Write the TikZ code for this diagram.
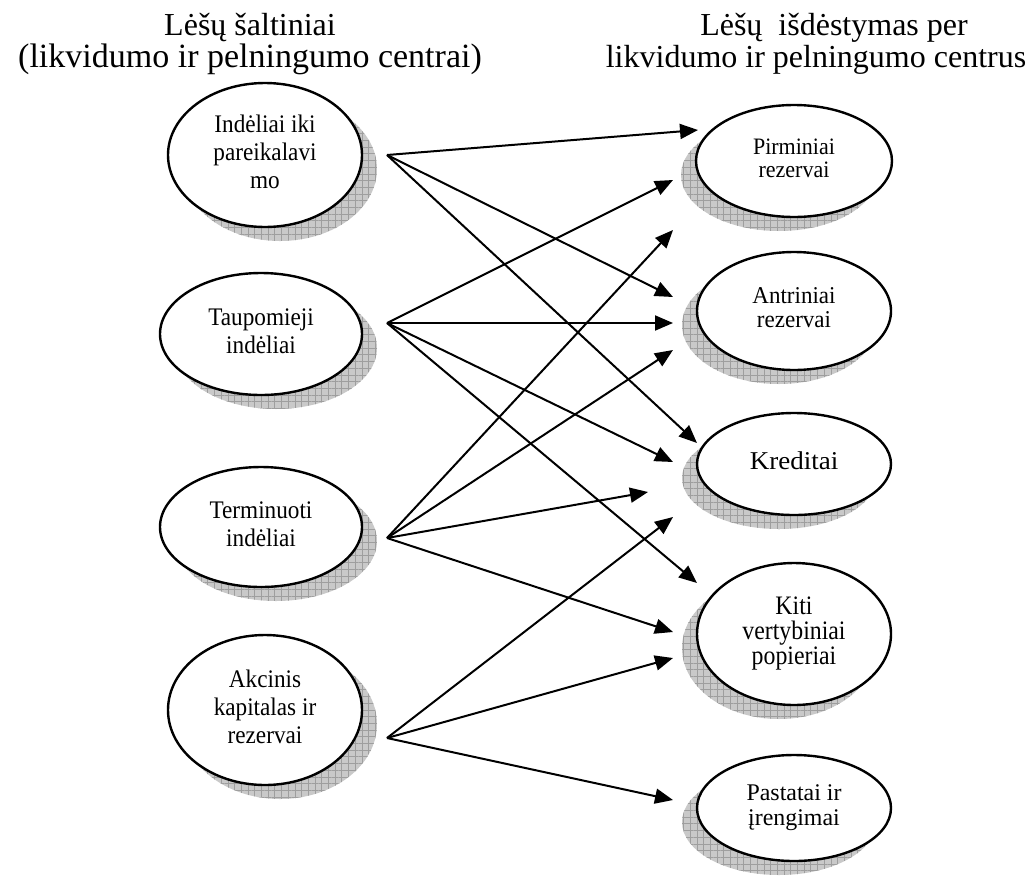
\documentclass[tikz,border=0pt]{standalone}
\usepackage{fontspec}
\usepackage{graphicx}
\setmainfont{Liberation Serif}
\usetikzlibrary{shapes.geometric,arrows.meta,patterns.meta}

% centred lines of oval text: size, vertical stretch, line distance, lines
\newcommand{\ovaltext}[4]{\scalebox{1}[#2]{\fontsize{#1}{#3}\selectfont
  \begin{tabular}{@{}c@{}}#4\end{tabular}}}

\tikzset{
  oval/.style={ellipse, draw=black, line width=2.4pt, fill=white, inner sep=0pt},
  heading/.style={anchor=base, inner sep=0pt},
  shade base/.style={fill=black!21},
  shade grid/.style={pattern={Hatch[angle=0,distance=6.7pt,line width=0.5pt]},
                     pattern color=black!38},
  link/.style={line width=2pt, -{Triangle[length=18pt,width=15pt]}},
}

\begin{document}
\begin{tikzpicture}[x=1pt, y=-1pt]
\useasboundingbox (0,0) rectangle (1030,884);

% headings
\node[heading] (hl) at (250,35) {\fontsize{32}{32}\selectfont
  \begin{tabular}[t]{@{}c@{}}Lėšų šaltiniai\\
  \smash{\fontsize{34}{32}\selectfont(likvidumo ir pelningumo centrai)}\end{tabular}};
\node[heading] (hr) at (816,35) {\fontsize{32}{32}\selectfont
  \begin{tabular}[t]{@{}c@{}}\hspace*{36pt}Lėšų~ išdėstymas per\\
  \smash{likvidumo ir pelningumo centrus}\end{tabular}};

% hatched shadows: left column falls to the lower right, right column to the lower left
\foreach \cx/\cy/\rx/\ry/\dx in {
    265/155/97/72/15, 261/334/101/61/15, 261/527/101/60/15, 265/710/97/75/15,
    794/161/98/56/-15, 794/311/97/59/-15, 794/464/97/51/-15,
    794/634/97/71/-15, 794/808/97/53/-15}{
  \fill[shade base] (\cx+\dx,\cy+14) ellipse [x radius=\rx pt, y radius=\ry pt];
  \fill[shade grid] (\cx+\dx,\cy+14) ellipse [x radius=\rx pt, y radius=\ry pt];
}

% sources
\node[oval, minimum width=194pt, minimum height=144pt] (src1) at (265,155)
  {\ovaltext{23.2}{1.09}{25.7}{Indėliai iki\\pareikalavi\\mo}};
\node[oval, minimum width=202pt, minimum height=122pt] (src2) at (261,334)
  {\ovaltext{23.2}{1.09}{25.7}{Taupomieji\\indėliai}};
\node[oval, minimum width=202pt, minimum height=120pt] (src3) at (261,527)
  {\ovaltext{23.2}{1.09}{25.7}{Terminuoti\\indėliai}};
\node[oval, minimum width=194pt, minimum height=150pt] (src4) at (265,710)
  {\ovaltext{23.2}{1.09}{25.7}{Akcinis\\kapitalas ir\\rezervai}};

% uses of funds
\node[oval, minimum width=196pt, minimum height=112pt] (dst1) at (794,161)
  {\ovaltext{22}{1.07}{21.5}{Pirminiai\\rezervai}};
\node[oval, minimum width=194pt, minimum height=118pt] (dst2) at (794,311)
  {\ovaltext{23}{1.05}{23}{Antriniai\\rezervai}};
\node[oval, minimum width=194pt, minimum height=102pt] (dst3) at (794,464)
  {\ovaltext{27}{0.95}{27}{Kreditai}};
\node[oval, minimum width=194pt, minimum height=142pt] (dst4) at (794,634)
  {\ovaltext{23.8}{1.12}{21}{Kiti\\vertybiniai\\popieriai}};
\node[oval, minimum width=194pt, minimum height=106pt] (dst5) at (794,808)
  {\ovaltext{23.9}{1.0}{25}{Pastatai ir\\įrengimai}};

% arrow origins beside the sources
\coordinate (s1) at (387,155);
\coordinate (s2) at (387,323);
\coordinate (s3) at (387,538);
\coordinate (s4) at (387,738);

% arrow tips in front of the targets
\coordinate (p1) at (698,130);
\coordinate (p2) at (673,180);
\coordinate (p3) at (673,230);
\coordinate (a1) at (673,297);
\coordinate (a2) at (673,323);
\coordinate (a3) at (673,350);
\coordinate (k1) at (697,443);
\coordinate (k2) at (673,462);
\coordinate (k3) at (648,492);
\coordinate (k4) at (673,517);
\coordinate (v1) at (697,583);
\coordinate (v2) at (673,632);
\coordinate (v3) at (673,658);
\coordinate (z1) at (673,800);

\draw[link] (s1) -- (p1);
\draw[link] (s1) -- (a1);
\draw[link] (s1) -- (k1);

\draw[link] (s2) -- (p2);
\draw[link] (s2) -- (a2);
\draw[link] (s2) -- (k2);
\draw[link] (s2) -- (v1);

\draw[link] (s3) -- (p3);
\draw[link] (s3) -- (a3);
\draw[link] (s3) -- (k3);
\draw[link] (s3) -- (v2);

\draw[link] (s4) -- (k4);
\draw[link] (s4) -- (v3);
\draw[link] (s4) -- (z1);
\end{tikzpicture}
\end{document}
